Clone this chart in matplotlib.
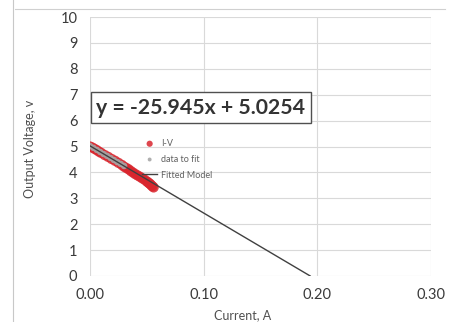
import numpy as np
import matplotlib.pyplot as plt
from matplotlib.lines import Line2D

plt.rcParams['font.family'] = ['Lato', 'DejaVu Sans']

# measured I-V points (red)
iv_current = [0.000, 0.002, 0.004, 0.006, 0.008, 0.010, 0.013, 0.016, 0.019, 0.022,
              0.025, 0.028, 0.030, 0.032, 0.034, 0.036, 0.038, 0.040, 0.042, 0.044,
              0.046, 0.048, 0.050, 0.051, 0.052, 0.053, 0.054, 0.055, 0.056]
iv_voltage = [5.00, 4.96, 4.91, 4.86, 4.80, 4.75, 4.67, 4.60, 4.52, 4.45,
              4.37, 4.29, 4.22, 4.17, 4.12, 4.05, 3.99, 3.93, 3.88, 3.83,
              3.77, 3.72, 3.65, 3.62, 3.58, 3.55, 3.50, 3.46, 3.42]

# subset used for fitting (grey)
fit_current = [0.000, 0.003, 0.006, 0.009, 0.012, 0.015, 0.018, 0.021, 0.024, 0.027, 0.030]
fit_voltage = [5.02, 4.95, 4.87, 4.79, 4.71, 4.64, 4.56, 4.48, 4.40, 4.33, 4.25]

slope = -25.945
intercept = 5.0254
model_current = [0.0, 0.1937]

fig = plt.figure(figsize=(4.59, 3.22), dpi=100)
ax = fig.add_axes([0.196, 0.143, 0.743, 0.804])

grid_c = '#d9d9d9'
ax.scatter(iv_current, iv_voltage, s=55, color='#d9262e', alpha=0.85, zorder=3, label='I-V', edgecolors='none')
ax.scatter(fit_current, fit_voltage, s=22, color='#a6a6a6', alpha=0.9, zorder=4, label='data to fit', edgecolors='none')
mx = np.array(model_current)
ax.plot(mx, slope * mx + intercept, color='#404040', lw=1.0, zorder=5, label='Fitted Model')

ax.set_xlim(0, 0.30)
ax.set_ylim(0, 10)
ax.set_xticks([0.0, 0.1, 0.2, 0.3])
ax.set_xticklabels(['0.00', '0.10', '0.20', '0.30'])
ax.set_yticks(range(0, 11))
ax.grid(True, color=grid_c, lw=0.8)
ax.set_axisbelow(True)
for s in ax.spines.values():
    s.set_visible(False)
ax.tick_params(axis='x', length=0, labelsize=10.5, colors='#3a3a3a', pad=9)
ax.tick_params(axis='y', length=0, labelsize=10.5, colors='#3a3a3a', pad=9)

ax.set_xlabel('Current, A', fontsize=9, color='#505050')
ax.set_ylabel('Output Voltage, v', fontsize=9, color='#505050')
ax.xaxis.set_label_coords(0.447, -0.128)
ax.yaxis.set_label_coords(-0.157, 0.49)

ax.text(0.0055, 6.5, 'y = -25.945x + 5.0254', fontsize=15.3, fontweight='bold',
        color='#333333', va='center', ha='left',
        bbox=dict(boxstyle='square,pad=0.26', fc='white', ec='#505050', lw=1.0))

ax.legend(loc='upper left', bbox_to_anchor=(0.13, 0.56), frameon=False, fontsize=6.5,
          labelcolor='#606060', handlelength=1.6, handletextpad=0.5, labelspacing=0.75,
          markerscale=0.6)

# screenshot frame lines
fig.add_artist(Line2D([0.033, 0.97], [0.972, 0.972], color='#d0d0d0', lw=0.8))
fig.add_artist(Line2D([0.029, 0.029], [0.0, 1.0], color='#c8c8c8', lw=0.8))

fig.savefig('out.png', dpi=100)
